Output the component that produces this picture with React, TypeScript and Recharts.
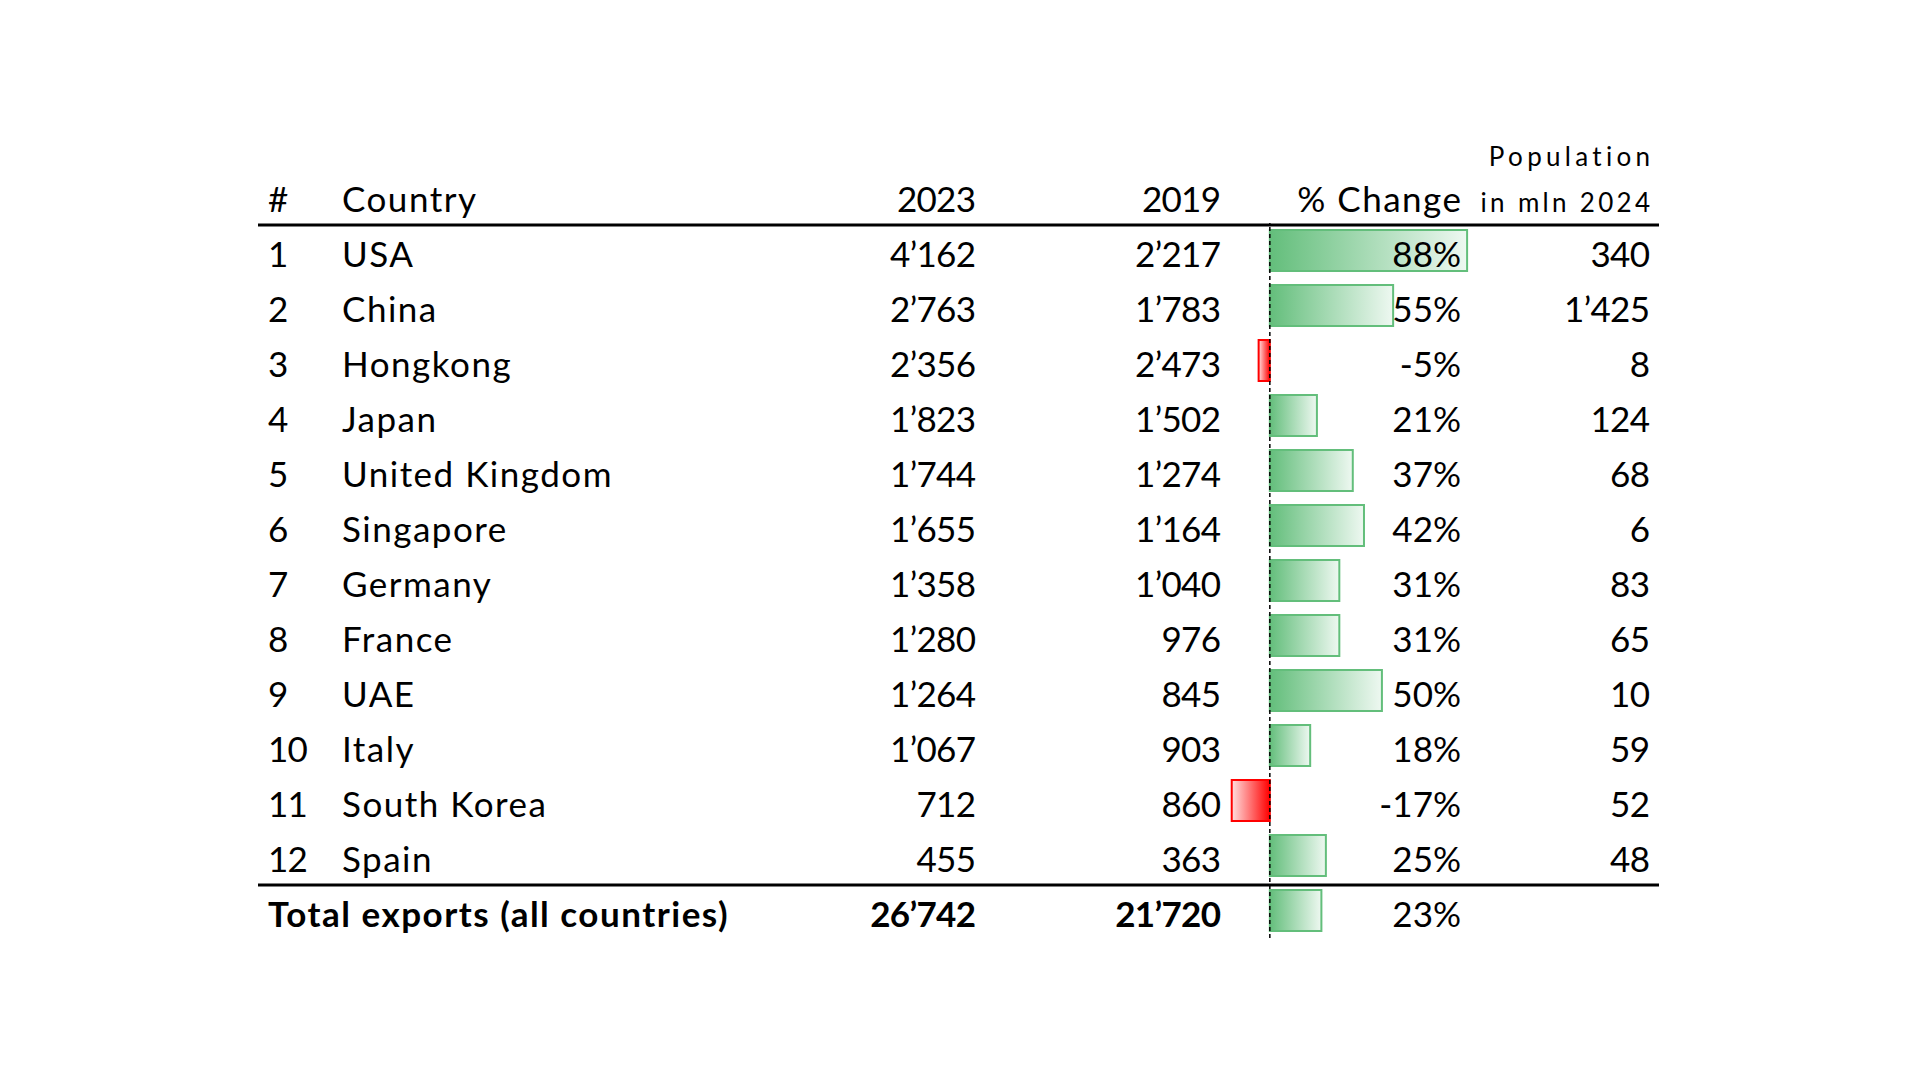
import React from 'react';
import { Bar, BarChart, Cell, LabelList, ReferenceLine, XAxis, YAxis } from 'recharts';

const ranks = ['1', '2', '3', '4', '5', '6', '7', '8', '9', '10', '11', '12'];
const countries = ['USA', 'China', 'Hongkong', 'Japan', 'United Kingdom', 'Singapore', 'Germany', 'France', 'UAE', 'Italy', 'South Korea', 'Spain'];
const exports2023 = [4162, 2763, 2356, 1823, 1744, 1655, 1358, 1280, 1264, 1067, 712, 455];
const exports2019 = [2217, 1783, 2473, 1502, 1274, 1164, 1040, 976, 845, 903, 860, 363];
const pctChange = [88, 55, -5, 21, 37, 42, 31, 31, 50, 18, -17, 25];
const population = [340, 1425, 8, 124, 68, 6, 83, 65, 10, 59, 52, 48];

const totalLabel = 'Total exports (all countries)';
const total2023 = 26742;
const total2019 = 21720;
const totalChange = 23;

const rows = [
  ...countries.map((name, i) => ({
    name,
    rank: ranks[i],
    v2023: exports2023[i],
    v2019: exports2019[i],
    change: pctChange[i],
    pop: population[i] as number | null,
    total: false,
  })),
  { name: totalLabel, rank: '', v2023: total2023, v2019: total2019, change: totalChange, pop: null, total: true },
];

const FONT = 'Lato, "Open Sans", sans-serif';
const FS = 35;
const LS = 1.5;
const NUM_LS = -0.7;
const ROW_H = 55;
const COL_RANK = 268;
const COL_COUNTRY = 342;
const COL_2023 = 976;
const COL_2019 = 1221;
const COL_PCT = 1461;
const COL_POP = 1650;
const LINE_X1 = 258;
const LINE_X2 = 1659;

const fmt = (n: number) => n.toLocaleString('en-US').replace(/,/g, '\u2019');

const T = ({ x, y, anchor = 'start', bold = false, size = FS, ls = LS, children }: any) => (
  <text
    x={anchor === 'end' ? x + ls : x}
    y={y}
    textAnchor={anchor}
    fontFamily={FONT}
    fontSize={size}
    fontWeight={bold ? 700 : 400}
    letterSpacing={ls}
    fill="#000"
  >
    {children}
  </text>
);

const RowTick = (props: any) => {
  const { y, payload } = props;
  const i = payload.index;
  const r = rows[i];
  const base = y + 16.5;
  return (
    <g>
      {i === 0 && (
        <g>
          <T x={COL_RANK} y={y - 38.5}>#</T>
          <T x={COL_COUNTRY} y={y - 38.5}>Country</T>
          <T x={COL_2023} y={y - 38.5} anchor="end" ls={NUM_LS}>2023</T>
          <T x={COL_2019} y={y - 38.5} anchor="end" ls={NUM_LS}>2019</T>
          <T x={COL_PCT} y={y - 38.5} anchor="end">% Change</T>
          <T x={COL_POP} y={y - 84.5} anchor="end" size={26} ls={4.3}>Population</T>
          <T x={COL_POP} y={y - 38.5} anchor="end" size={26} ls={3.3}>in mln 2024</T>
          <line x1={LINE_X1} x2={LINE_X2} y1={y - ROW_H / 2 + 2} y2={y - ROW_H / 2 + 2} stroke="#000" strokeWidth={3} />
        </g>
      )}
      {r.total ? (
        <T x={COL_RANK} y={base} bold>{r.name}</T>
      ) : (
        <g>
          <T x={COL_RANK} y={base} ls={NUM_LS}>{r.rank}</T>
          <T x={COL_COUNTRY} y={base}>{r.name}</T>
        </g>
      )}
      <T x={COL_2023} y={base} anchor="end" bold={r.total} ls={NUM_LS}>{fmt(r.v2023)}</T>
      <T x={COL_2019} y={base} anchor="end" bold={r.total} ls={NUM_LS}>{fmt(r.v2019)}</T>
      {r.pop !== null && <T x={COL_POP} y={base} anchor="end" ls={NUM_LS}>{fmt(r.pop)}</T>}
      {i === rows.length - 2 && (
        <line x1={LINE_X1} x2={LINE_X2} y1={y + ROW_H / 2 + 2} y2={y + ROW_H / 2 + 2} stroke="#000" strokeWidth={3} />
      )}
    </g>
  );
};

const PctLabel = (props: any) => {
  const { y, height, value } = props;
  return (
    <T x={COL_PCT} y={y + height / 2 + 16.5} anchor="end" ls={0}>
      {`${value}%`}
    </T>
  );
};

const App = () => {
  return (
    <div style={{ position: 'absolute', left: 0, top: 0, background: '#fff' }}>
      <BarChart
        width={1920}
        height={1080}
        data={rows}
        layout="vertical"
        margin={{ top: 223, right: 426, bottom: 142, left: 0 }}
      >
        <defs>
          <linearGradient id="greenGrad" x1="0" y1="0" x2="1" y2="0">
            <stop offset="0%" stopColor="#63BE7B" />
            <stop offset="100%" stopColor="#EEF8F1" />
          </linearGradient>
          <linearGradient id="redGrad" x1="0" y1="0" x2="1" y2="0">
            <stop offset="0%" stopColor="#FFE0E0" />
            <stop offset="100%" stopColor="#FF0000" />
          </linearGradient>
        </defs>
        <XAxis type="number" domain={[-20, 100]} hide />
        <YAxis
          type="category"
          dataKey="name"
          width={1225}
          axisLine={false}
          tickLine={false}
          interval={0}
          tick={<RowTick />}
        />
        <Bar dataKey="change" barSize={41} isAnimationActive={false}>
          {rows.map((r, i) => (
            <Cell
              key={i}
              fill={r.change < 0 ? 'url(#redGrad)' : 'url(#greenGrad)'}
              stroke={r.change < 0 ? '#FF0000' : '#63BE7B'}
              strokeWidth={2}
            />
          ))}
          <LabelList dataKey="change" content={<PctLabel />} />
        </Bar>
        <ReferenceLine x={0} stroke="#000" strokeWidth={1.5} strokeDasharray="4 3" />
      </BarChart>
    </div>
  );
};

export default App;
